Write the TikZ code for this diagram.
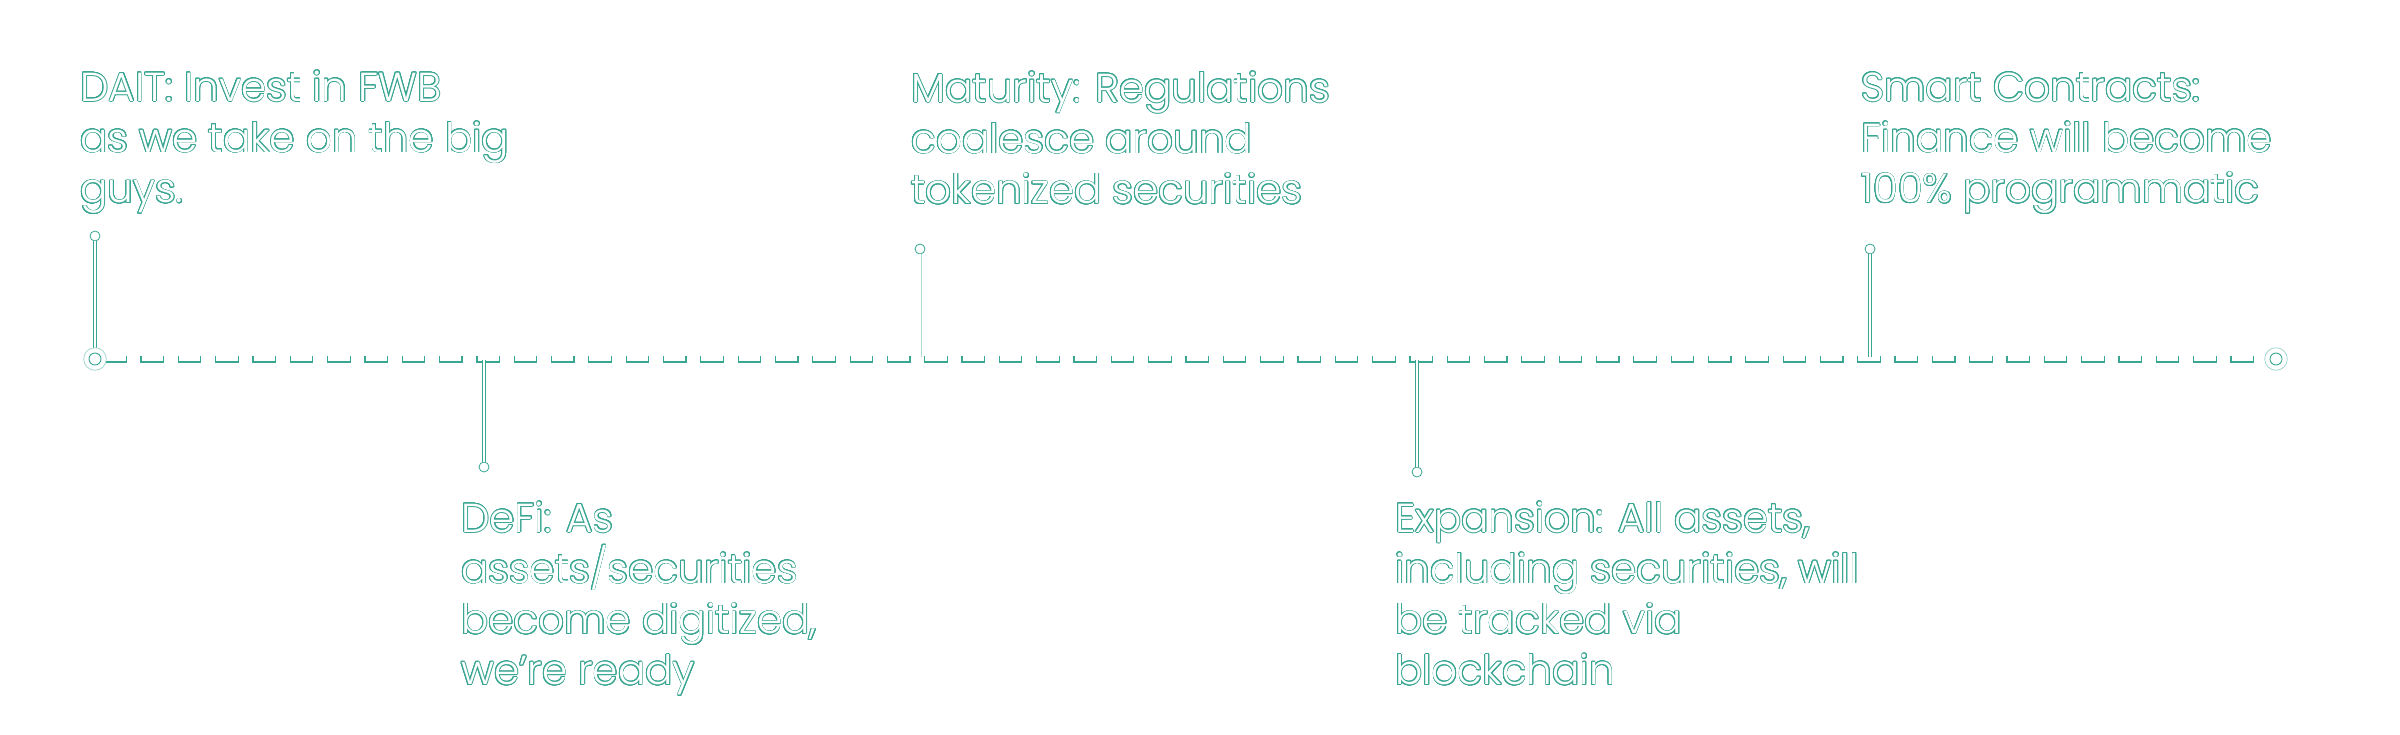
\documentclass[tikz,border=0pt]{standalone}
\usepackage{fontspec}
\setmainfont{Poppins}[UprightFont={* Light}]
\usepackage[copies]{contour}
\contourlength{0.8pt}
\contournumber{20}
\usetikzlibrary{decorations.markings}
\definecolor{tl}{RGB}{56,166,146}
\newcommand{\outl}[1]{\contour{tl}{#1}}
\begin{document}
\begin{tikzpicture}[x=1pt,y=-1pt,
  lbl/.style={anchor=north west, inner sep=0pt, align=left, text=white,
              font=\fontsize{40.5}{50.8}\selectfont},
  stem/.style={draw=tl, line width=4.6pt, postaction={draw=white, line width=2.6pt}},
  ball/.style={circle, draw=tl, fill=white, line width=0.8pt, minimum size=10pt, inner sep=0pt},
  ring/.style={circle, draw=tl!45, fill=white, line width=0.8pt, minimum size=22.6pt, inner sep=0pt,
               path picture={\draw[tl, line width=0.9pt] (path picture bounding box.center) circle[radius=6pt];}},
  dashu/.style={draw=tl, line width=1.2pt},
  tline/.style={draw=none, postaction={decorate, decoration={markings,
     mark=between positions 8.7pt and -30pt step 37.32pt with
     {\draw[dashu] (0pt,2.9pt) -- (0pt,-2.9pt) -- (22.5pt,-2.9pt) -- (22.5pt,2.9pt);}}}}
]
\useasboundingbox[fill=white] (0,0) rectangle (2400,734);

% main timeline
\coordinate (s0) at (95,359);
\coordinate (e0) at (2276,359);
\path[tline] (s0) -- (e0);

% junctions on the line
\coordinate (j1) at (95,350);
\coordinate (j2) at (484,360);
\coordinate (j3) at (920,357);
\coordinate (j4) at (1417,360);
\coordinate (j5) at (1870,357);

% balls
\node[ball] (b1) at (95,236) {};
\node[ball] (b2) at (484,467) {};
\node[ball] (b3) at (920,249) {};
\node[ball] (b4) at (1417,472) {};
\node[ball] (b5) at (1870,249) {};

% stems
\draw[stem] (b1.south) -- (j1);
\draw[stem] (j2) -- (b2.north);
\draw[stem, draw=tl!40, line width=3pt, postaction={draw=white, line width=1.8pt}] (b3.south) -- (j3);
\draw[stem] (j4) -- (b4.north);
\draw[stem] (b5.south) -- (j5);

% end rings
\node[ring] (s) at (s0) {};
\node[ring] (e) at (e0) {};

% labels
\node[lbl] (t1) at (80,61) {\rule{0pt}{40pt}\outl{DAIT: Invest in FWB}\\\outl{as we take on the big}\\\outl{guys.}};
\node[lbl] (t2) at (461,492) {\rule{0pt}{40pt}\outl{DeFi: As}\\\outl{assets/securities}\\\outl{become digitized,}\\\outl{we're ready}};
\node[lbl] (t3) at (911,62) {\rule{0pt}{40pt}\outl{Maturity: Regulations}\\\outl{coalesce around}\\\outl{tokenized securities}};
\node[lbl] (t4) at (1395,492) {\rule{0pt}{40pt}\outl{Expansion: All assets,}\\\outl{including securities, will}\\\outl{be tracked via}\\\outl{blockchain}};
\node[lbl] (t5) at (1861,61) {\rule{0pt}{40pt}\outl{Smart Contracts:}\\\outl{Finance will become}\\\outl{100\% programmatic}};
\end{tikzpicture}
\end{document}
